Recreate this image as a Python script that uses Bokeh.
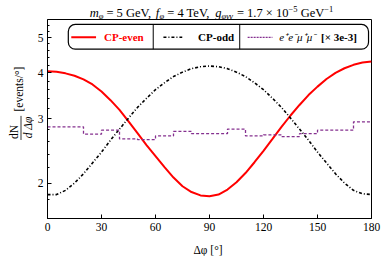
import math
from bokeh.plotting import figure
from bokeh.layouts import row, column
from bokeh.models import Range1d, FixedTicker, PrintfTickFormatter, Label, BoxAnnotation
from bokeh.core.properties import value
from bokeh.embed import file_html
from bokeh.resources import INLINE

# ---------------- data ----------------
angle_deg = [0, 5, 10, 15, 20, 25, 30, 35, 40, 45, 50, 55, 60, 65, 70, 75, 80, 85, 90,
             95, 100, 105, 110, 115, 120, 125, 130, 135, 140, 145, 150, 155, 160, 165, 170, 175, 180]
cp_even = [4.04, 4.03, 3.99, 3.93, 3.84, 3.72, 3.56, 3.37, 3.17, 2.95, 2.74, 2.54, 2.37, 2.21,
           2.07, 1.96, 1.89, 1.85, 1.84, 1.86, 1.92, 2.01, 2.13, 2.28, 2.45, 2.64, 2.85, 3.06,
           3.27, 3.48, 3.67, 3.85, 4.00, 4.12, 4.21, 4.27, 4.30]
cp_odd = [1.86, 1.86, 1.91, 2.00, 2.12, 2.27, 2.43, 2.62, 2.81, 3.01, 3.22, 3.41, 3.60, 3.76,
          3.91, 4.02, 4.11, 4.16, 4.18, 4.16, 4.11, 4.02, 3.91, 3.76, 3.60, 3.41, 3.22, 3.01,
          2.81, 2.62, 2.43, 2.27, 2.12, 2.00, 1.91, 1.87, 1.86]
bin_edges = [0, 10, 20, 30, 40, 50, 60, 70, 80, 90, 100, 110, 120, 130, 140, 150, 160, 170, 180]
bkg_x3e3 = [2.85, 2.85, 2.72, 2.79, 2.64, 2.63, 2.69, 2.77, 2.73, 2.73, 2.81, 2.69, 2.71,
            2.68, 2.73, 2.79, 2.79, 2.94]
x_ticks = [0, 30, 60, 90, 120, 150, 180]
y_ticks = [2, 3, 4, 5]
y_minor = [1.6, 1.8, 2.2, 2.4, 2.6, 2.8, 3.2, 3.4, 3.6, 3.8, 4.2, 4.4, 4.6, 4.8, 5.2, 5.4]
labels = ["CP-even", "CP-odd", "e\u207ae\u207b\u03bc\u207a\u03bc\u207b", "[\u00d7 3e-3]"]
# title pieces: (text, style, kind)  kind: n = normal size, b = subscript, p = superscript, s = space
title_pieces = [("m", "italic", "n"), ("\u03c6", "italic", "b"), ("", "", "s"),
                ("= 5 GeV,", "normal", "n"), ("", "", "s"),
                ("f", "italic", "n"), ("\u03c6", "italic", "b"), ("", "", "s"),
                ("= 4 TeV,", "normal", "n"), ("", "", "s"),
                ("g", "italic", "n"), ("\u03c6\u03b3\u03b3", "italic", "b"), ("", "", "s"),
                ("= 1.7 \u00d7 10", "normal", "n"), ("\u22125", "normal", "p"), ("", "", "s"),
                ("GeV", "normal", "n"), ("\u22121", "normal", "p")]
ylabel_parts = ["dN", "d \u0394\u03c6", "[events/\u00b0]"]
xlabel = "\u0394\u03c6 [\u00b0]"

Y0, Y1 = 1.6, 5.6
FONT = "Liberation Serif"
RED = "#ff0000"
PURPLE = "#85308f"
LW = 34      # width of the y-label strip
TH = 19      # height of the title strip
BH = 14      # height of the x-label strip
TICK_FS = "11.5px"
FRAME_BOTTOM = 218
MAIN_H = 256 - TH - BH


# reference-pixel -> data helpers (positions of annotations only)
def rx(wx):
    return (wx - 44) * 180.0 / 327.0


def ry(wy):
    return Y0 * 10 ** ((218 - wy) / 201.0 * math.log10(Y1 / Y0))


# ---------------- main plot ----------------
p = figure(width=382 - LW, height=MAIN_H, output_backend="svg", toolbar_location=None,
           x_range=Range1d(0, 180), y_range=Range1d(Y0, Y1), y_axis_type="log", title=None)
p.min_border_left = 44 - LW
p.min_border_right = 11
p.min_border_top = 0
p.min_border_bottom = (256 - BH) - FRAME_BOTTOM
p.background_fill_color = "white"
p.border_fill_color = "white"
p.outline_line_color = "black"
p.outline_line_width = 1
p.xgrid.visible = False
p.ygrid.visible = False

# axes
p.xaxis.ticker = FixedTicker(ticks=x_ticks)
p.yaxis.ticker = FixedTicker(ticks=y_ticks, minor_ticks=y_minor)
p.yaxis.formatter = PrintfTickFormatter(format="%d")
for ax in (p.xaxis, p.yaxis):
    ax.axis_line_color = "black"
    ax.major_tick_in = 4
    ax.major_tick_out = 0
    ax.minor_tick_in = 2
    ax.minor_tick_out = 0
    ax.major_tick_line_color = "black"
    ax.minor_tick_line_color = "black"
    ax.major_label_text_font = FONT
    ax.major_label_text_font_size = TICK_FS
    ax.major_label_text_color = "black"
    ax.major_label_standoff = 4
p.xaxis.minor_tick_line_color = None

# curves
p.line(angle_deg, cp_even, line_color=RED, line_width=2)
p.line(angle_deg, cp_odd, line_color="black", line_width=1.6, line_dash="3 2 1 2")
p.step(bin_edges, bkg_x3e3 + [bkg_x3e3[-1]], mode="after", line_color=PURPLE,
       line_width=1.3, line_dash="3 2")

# legend box (drawn below the legend glyphs)
box = BoxAnnotation(left=rx(65), right=rx(368), top=ry(22), bottom=ry(47),
                    fill_color="white", fill_alpha=1.0, line_color="black",
                    line_width=1.2, line_alpha=1.0, border_radius=7, level="underlay")
p.add_layout(box)
p.segment([rx(150.7), rx(238)], [ry(22), ry(22)], [rx(150.7), rx(238)], [ry(47), ry(47)],
          line_color="black", line_width=1)
ly = ry(35)
p.line([rx(68), rx(93)], [ly, ly], line_color=RED, line_width=2)
p.line([rx(161), rx(180)], [ly, ly], line_color="black", line_width=1.6, line_dash="3 2 1 2")
p.line([rx(246), rx(271)], [ly, ly], line_color=PURPLE, line_width=1.3, line_dash="2 1")

LFS = "11px"
p.add_layout(Label(x=rx(101), y=ly, text=labels[0], text_font=FONT, text_font_size=LFS,
                   text_font_style="bold", text_color=RED, text_baseline="middle", text_align="left"))
p.add_layout(Label(x=rx(196), y=ly, text=labels[1], text_font=FONT, text_font_size=LFS,
                   text_font_style="bold", text_color="black", text_baseline="middle", text_align="left"))
p.add_layout(Label(x=rx(278), y=ly, text=labels[2], text_font=FONT, text_font_size=LFS,
                   text_font_style="italic", text_color="black", text_baseline="middle", text_align="left"))
p.add_layout(Label(x=rx(320), y=ly, text=labels[3], text_font=FONT, text_font_size=LFS,
                   text_font_style="bold", text_color="black", text_baseline="middle", text_align="left"))


def strip(w, h, y_top):
    f = figure(width=w, height=h, output_backend="svg", toolbar_location=None,
               x_range=Range1d(0, w), y_range=Range1d(y_top + h, y_top), title=None)
    f.min_border_left = 0
    f.min_border_right = 0
    f.min_border_top = 0
    f.min_border_bottom = 0
    f.axis.visible = False
    f.grid.visible = False
    f.outline_line_color = None
    f.background_fill_color = "white"
    f.border_fill_color = "white"
    return f


# ---------------- y-label strip (window pixel coordinates, y from top) ----------------
q = strip(LW, MAIN_H, TH)
q.text(x=[13], y=[145], text=[ylabel_parts[0]], angle=math.pi / 2,
       text_font=value(FONT), text_font_size="11.5px", text_align="center",
       text_baseline="middle", text_color="black")
q.text(x=[27.5], y=[140], text=[ylabel_parts[1]], angle=math.pi / 2,
       text_font=value(FONT), text_font_size="11.5px", text_align="center",
       text_baseline="middle", text_color="black", text_font_style=value("italic"))
q.text(x=[18], y=[97], text=[ylabel_parts[2]], angle=math.pi / 2,
       text_font=value(FONT), text_font_size="11.5px", text_align="center",
       text_baseline="middle", text_color="black")
q.segment(x0=[20.5], y0=[127], x1=[20.5], y1=[154], line_color="black", line_width=0.8)

# ---------------- x-label strip ----------------
b = strip(382, BH, 256 - BH)
b.text(x=[207.5], y=[249], text=[xlabel], text_font=value(FONT), text_font_size=TICK_FS,
       text_align="center", text_baseline="middle", text_color="black")

# ---------------- title strip ----------------
t = strip(382, TH, 0)

# approximate Times advance widths (per 1000 em) used only to place the title pieces
ADV = {" ": 250, ",": 250, ".": 250, "=": 564, "\u00d7": 564, "\u2212": 564, "G": 722,
       "e": 444, "V": 722, "T": 611, "m": 722, "f": 300, "g": 500, "\u03c6": 540, "\u03b3": 450}
FS_MAIN = 12.5
FS_SMALL = 8.5
BASE = 12.5


def adv(s, fs):
    return sum(ADV.get(c, 500) for c in s) * fs / 1000.0


total = 0.0
for txt, sty, kind in title_pieces:
    if kind == "s":
        total += adv(" ", FS_MAIN)
    else:
        total += adv(txt, FS_MAIN if kind == "n" else FS_SMALL)
cur = 211 - total / 2.0
for txt, sty, kind in title_pieces:
    if kind == "s":
        cur += adv(" ", FS_MAIN)
        continue
    fs = FS_MAIN if kind == "n" else FS_SMALL
    yy = BASE + (2.5 if kind == "b" else (-4.5 if kind == "p" else 0.0))
    t.text(x=[cur], y=[yy], text=[txt], text_font=value(FONT), text_font_size="%gpx" % fs,
           text_font_style=value(sty), text_align="left", text_baseline="alphabetic",
           text_color="black")
    cur += adv(txt, fs)

layout = column(t, row(q, p, spacing=0), b, spacing=0)
open("out.html", "w").write(file_html(layout, INLINE))
